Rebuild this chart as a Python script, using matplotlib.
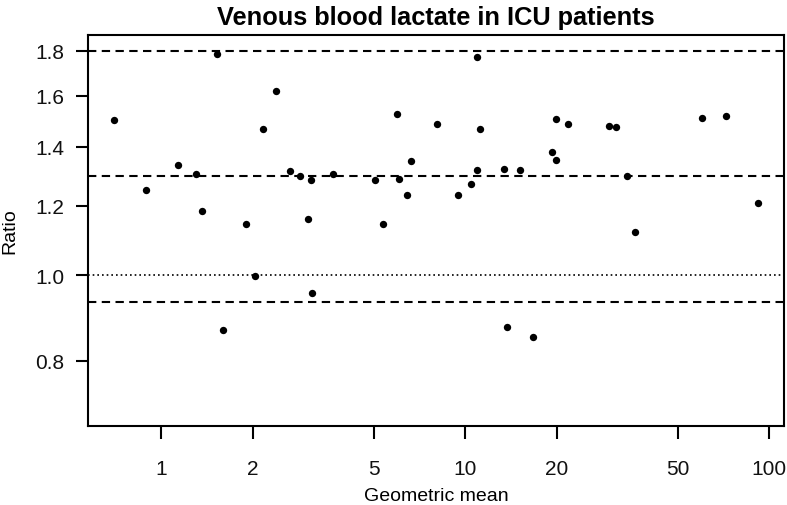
import numpy as np
import matplotlib
matplotlib.use('Agg')
import matplotlib.pyplot as plt
from matplotlib.ticker import FixedLocator, NullLocator, FixedFormatter

plt.rcParams['font.family'] = ['Liberation Sans', 'DejaVu Sans']

# geometric mean (x) and ratio (y) for each patient
geo_mean = [0.699, 0.895, 1.140, 1.300, 1.361, 1.524, 1.603, 1.899, 2.038, 2.160,
            2.384, 2.664, 2.858, 3.044, 3.107, 3.131, 3.670, 5.06, 5.36, 5.96,
            6.05, 6.45, 6.63, 8.09, 9.48, 10.49, 10.93, 10.98, 11.23, 13.47,
            13.75, 15.2, 16.77, 19.33, 19.87, 19.92, 21.82, 29.69, 31.31, 34.1,
            36.3, 60.2, 72.4, 91.8]
ratio = [1.502, 1.251, 1.335, 1.303, 1.183, 1.786, 0.867, 1.143, 0.999, 1.465,
         1.620, 1.314, 1.295, 1.160, 1.282, 0.955, 1.303, 1.282, 1.143, 1.524,
         1.286, 1.234, 1.350, 1.487, 1.234, 1.269, 1.317, 1.768, 1.466, 1.322,
         0.873, 1.317, 0.850, 1.382, 1.503, 1.353, 1.487, 1.477, 1.472, 1.296,
         1.120, 1.508, 1.518, 1.208]

mean_ratio = 1.296
upper_loa = 1.799
lower_loa = 0.933

x_ticks = [1, 2, 5, 10, 20, 50, 100]
y_ticks = [0.8, 1.0, 1.2, 1.4, 1.6, 1.8]

fig = plt.figure(figsize=(7.87, 5.06), dpi=100)
ax = fig.add_axes([0.1118, 0.1561, 0.8844, 0.7728])
ax.set_xscale('log')
ax.set_yscale('log')
ax.set_xlim(0.575, 112)
ax.set_ylim(0.674, 1.875)

ax.scatter(geo_mean, ratio, s=28, color='black', zorder=3, linewidths=0)

for val in (upper_loa, mean_ratio, lower_loa):
    ax.axhline(val, color='black', lw=1.5, linestyle=(0, (4, 2.6)))
ax.axhline(1.0, color='black', lw=1.2, linestyle=(0, (1, 1.8)))

ax.xaxis.set_major_locator(FixedLocator(x_ticks))
ax.xaxis.set_major_formatter(FixedFormatter([str(v) for v in x_ticks]))
ax.xaxis.set_minor_locator(NullLocator())
ax.yaxis.set_major_locator(FixedLocator(y_ticks))
ax.yaxis.set_major_formatter(FixedFormatter(['%.1f' % v for v in y_ticks]))
ax.yaxis.set_minor_locator(NullLocator())

ax.tick_params(axis='both', direction='out', length=9, width=1.5, labelsize=15,
               color='black', labelcolor='#111111')
ax.tick_params(axis='x', pad=15)
ax.tick_params(axis='y', pad=8)
for s in ax.spines.values():
    s.set_linewidth(1.5)

ax.set_xlabel('Geometric mean', fontsize=14, labelpad=6)
ax.set_ylabel('Ratio', fontsize=14, labelpad=12)
ax.set_title('Venous blood lactate in ICU patients', fontsize=18.3, fontweight='bold', pad=8)

fig.savefig('out.png', dpi=100)
